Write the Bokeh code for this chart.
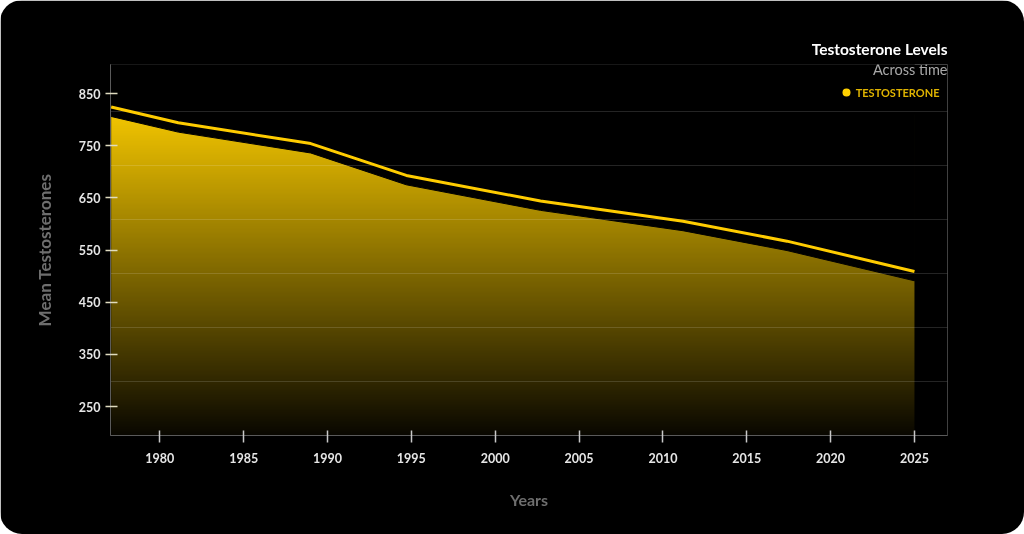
import numpy as np
from bokeh.plotting import figure
from bokeh.models import Range1d, FixedTicker, Label, Legend, LegendItem
from bokeh.embed import file_html
from bokeh.resources import INLINE

# ---- data ----
years = [1977.1, 1981.1, 1989.0, 1994.7, 2002.7, 2011.2, 2017.4, 2025.0]
testosterone = [824, 794, 754, 693, 644, 605, 567, 509]
area_top = [806, 776, 736, 675, 626, 587, 549, 491]
x_ticks = [1980, 1985, 1990, 1995, 2000, 2005, 2010, 2015, 2020, 2025]
y_ticks = [250, 350, 450, 550, 650, 750, 850]
grid_levels = [298, 401.5, 505, 608.5, 712, 815.5]

X0, X1 = 1977.06, 2026.97
Y0, Y1 = 194.5, 905.6

W, H = 1024, 534
p = figure(width=W, height=H, output_backend="svg", toolbar_location=None,
           x_range=Range1d(X0, X1), y_range=Range1d(Y0, Y1),
           min_border_left=110, min_border_right=77,
           min_border_top=64, min_border_bottom=99,
           background_fill_color="black", border_fill_color="black",
           outline_line_color=None)
p.styles = {"position": "fixed", "left": "0px", "top": "0px",
            "border-radius": "22px", "overflow": "hidden"}

# title
p.title.text = "Testosterone Levels"
p.title.align = "right"
p.title.text_font = "Lato"
p.title.text_font_style = "bold"
p.title.text_font_size = "15.5px"
p.title.text_color = "white"
p.title.standoff = 13

# gradient fill under the curve: image + black mask above area top
n = 256
t = np.linspace(0.04, 1.0, n)
img = np.zeros((n, 1), dtype=np.uint32)
view = img.view(dtype=np.uint8).reshape((n, 1, 4))
view[:, 0, 0] = (242 * t).astype(np.uint8)
view[:, 0, 1] = (197 * t).astype(np.uint8)
view[:, 0, 2] = 0
view[:, 0, 3] = 255
top_img = max(area_top) + 4
p.image_rgba(image=[img], x=years[0], y=Y0, dw=years[-1] - years[0],
             dh=top_img - Y0, level="image")
p.patch(x=years + [years[-1], years[0]], y=area_top + [Y1, Y1],
        fill_color="black", line_color="black", line_width=1, level="image")

line = p.line(years, testosterone, line_color="#FFCC00", line_width=3)

# legend (dot proxy for the series, not drawn in the plot)
dot = p.scatter(x=years, y=testosterone, fill_color="#FFD000",
                line_color=None, visible=False)
legend = Legend(items=[LegendItem(label="TESTOSTERONE", renderers=[dot])],
                location=(725.7, 333), orientation="horizontal",
                glyph_width=20, glyph_height=20, label_height=20,
                label_standoff=0, padding=0, margin=0, spacing=0,
                border_line_color=None, background_fill_alpha=0,
                inactive_fill_alpha=0,
                label_text_font="Lato", label_text_font_style="bold",
                label_text_font_size="11px", label_text_color="#E0B400",
                label_text_baseline="middle")
p.add_layout(legend, "center")

# subtitle
p.add_layout(Label(x=837, y=366, x_units="screen", y_units="screen",
                   text="Across time", text_align="right",
                   text_baseline="middle", text_font="Lato",
                   text_font_size="14.5px", text_color="#a8a8a8"))

# grid
p.xgrid.visible = False
p.ygrid.ticker = FixedTicker(ticks=grid_levels)
p.ygrid.grid_line_color = "white"
p.ygrid.grid_line_alpha = 0.14
p.ygrid.grid_line_width = 1

# axes
for ax in (p.xaxis[0], p.yaxis[0]):
    ax.axis_line_color = "#5a5a5a"
    ax.axis_line_width = 1
    ax.major_label_text_font = "Lato"
    ax.major_label_text_font_style = "bold"
    ax.major_label_text_font_size = "12.5px"
    ax.major_label_text_color = "#e6e6e6"
    ax.minor_tick_line_color = None
    ax.axis_label_text_font = "Lato"
    ax.axis_label_text_font_style = "bold"
    ax.axis_label_text_color = "#6e6e6e"

p.xaxis.ticker = FixedTicker(ticks=x_ticks)
p.xaxis.major_tick_in = 5
p.xaxis.major_tick_out = 7
p.xaxis.major_tick_line_color = "#c8c8c8"
p.xaxis.major_tick_line_width = 1.5
p.xaxis.major_label_standoff = 10
p.xaxis.axis_label = "Years"
p.xaxis.axis_label_text_font_size = "16px"
p.xaxis.axis_label_standoff = 24

p.yaxis.ticker = FixedTicker(ticks=y_ticks)
p.yaxis.major_tick_in = 7
p.yaxis.major_tick_out = 5
p.yaxis.major_tick_line_color = "#e0dcc0"
p.yaxis.major_tick_line_width = 1.5
p.yaxis.major_label_standoff = 5
p.yaxis.axis_label = "Mean Testosterones"
p.yaxis.axis_label_text_font_size = "17px"
p.yaxis.axis_label_standoff = 21

open("out.html", "w").write(file_html(p, INLINE))
